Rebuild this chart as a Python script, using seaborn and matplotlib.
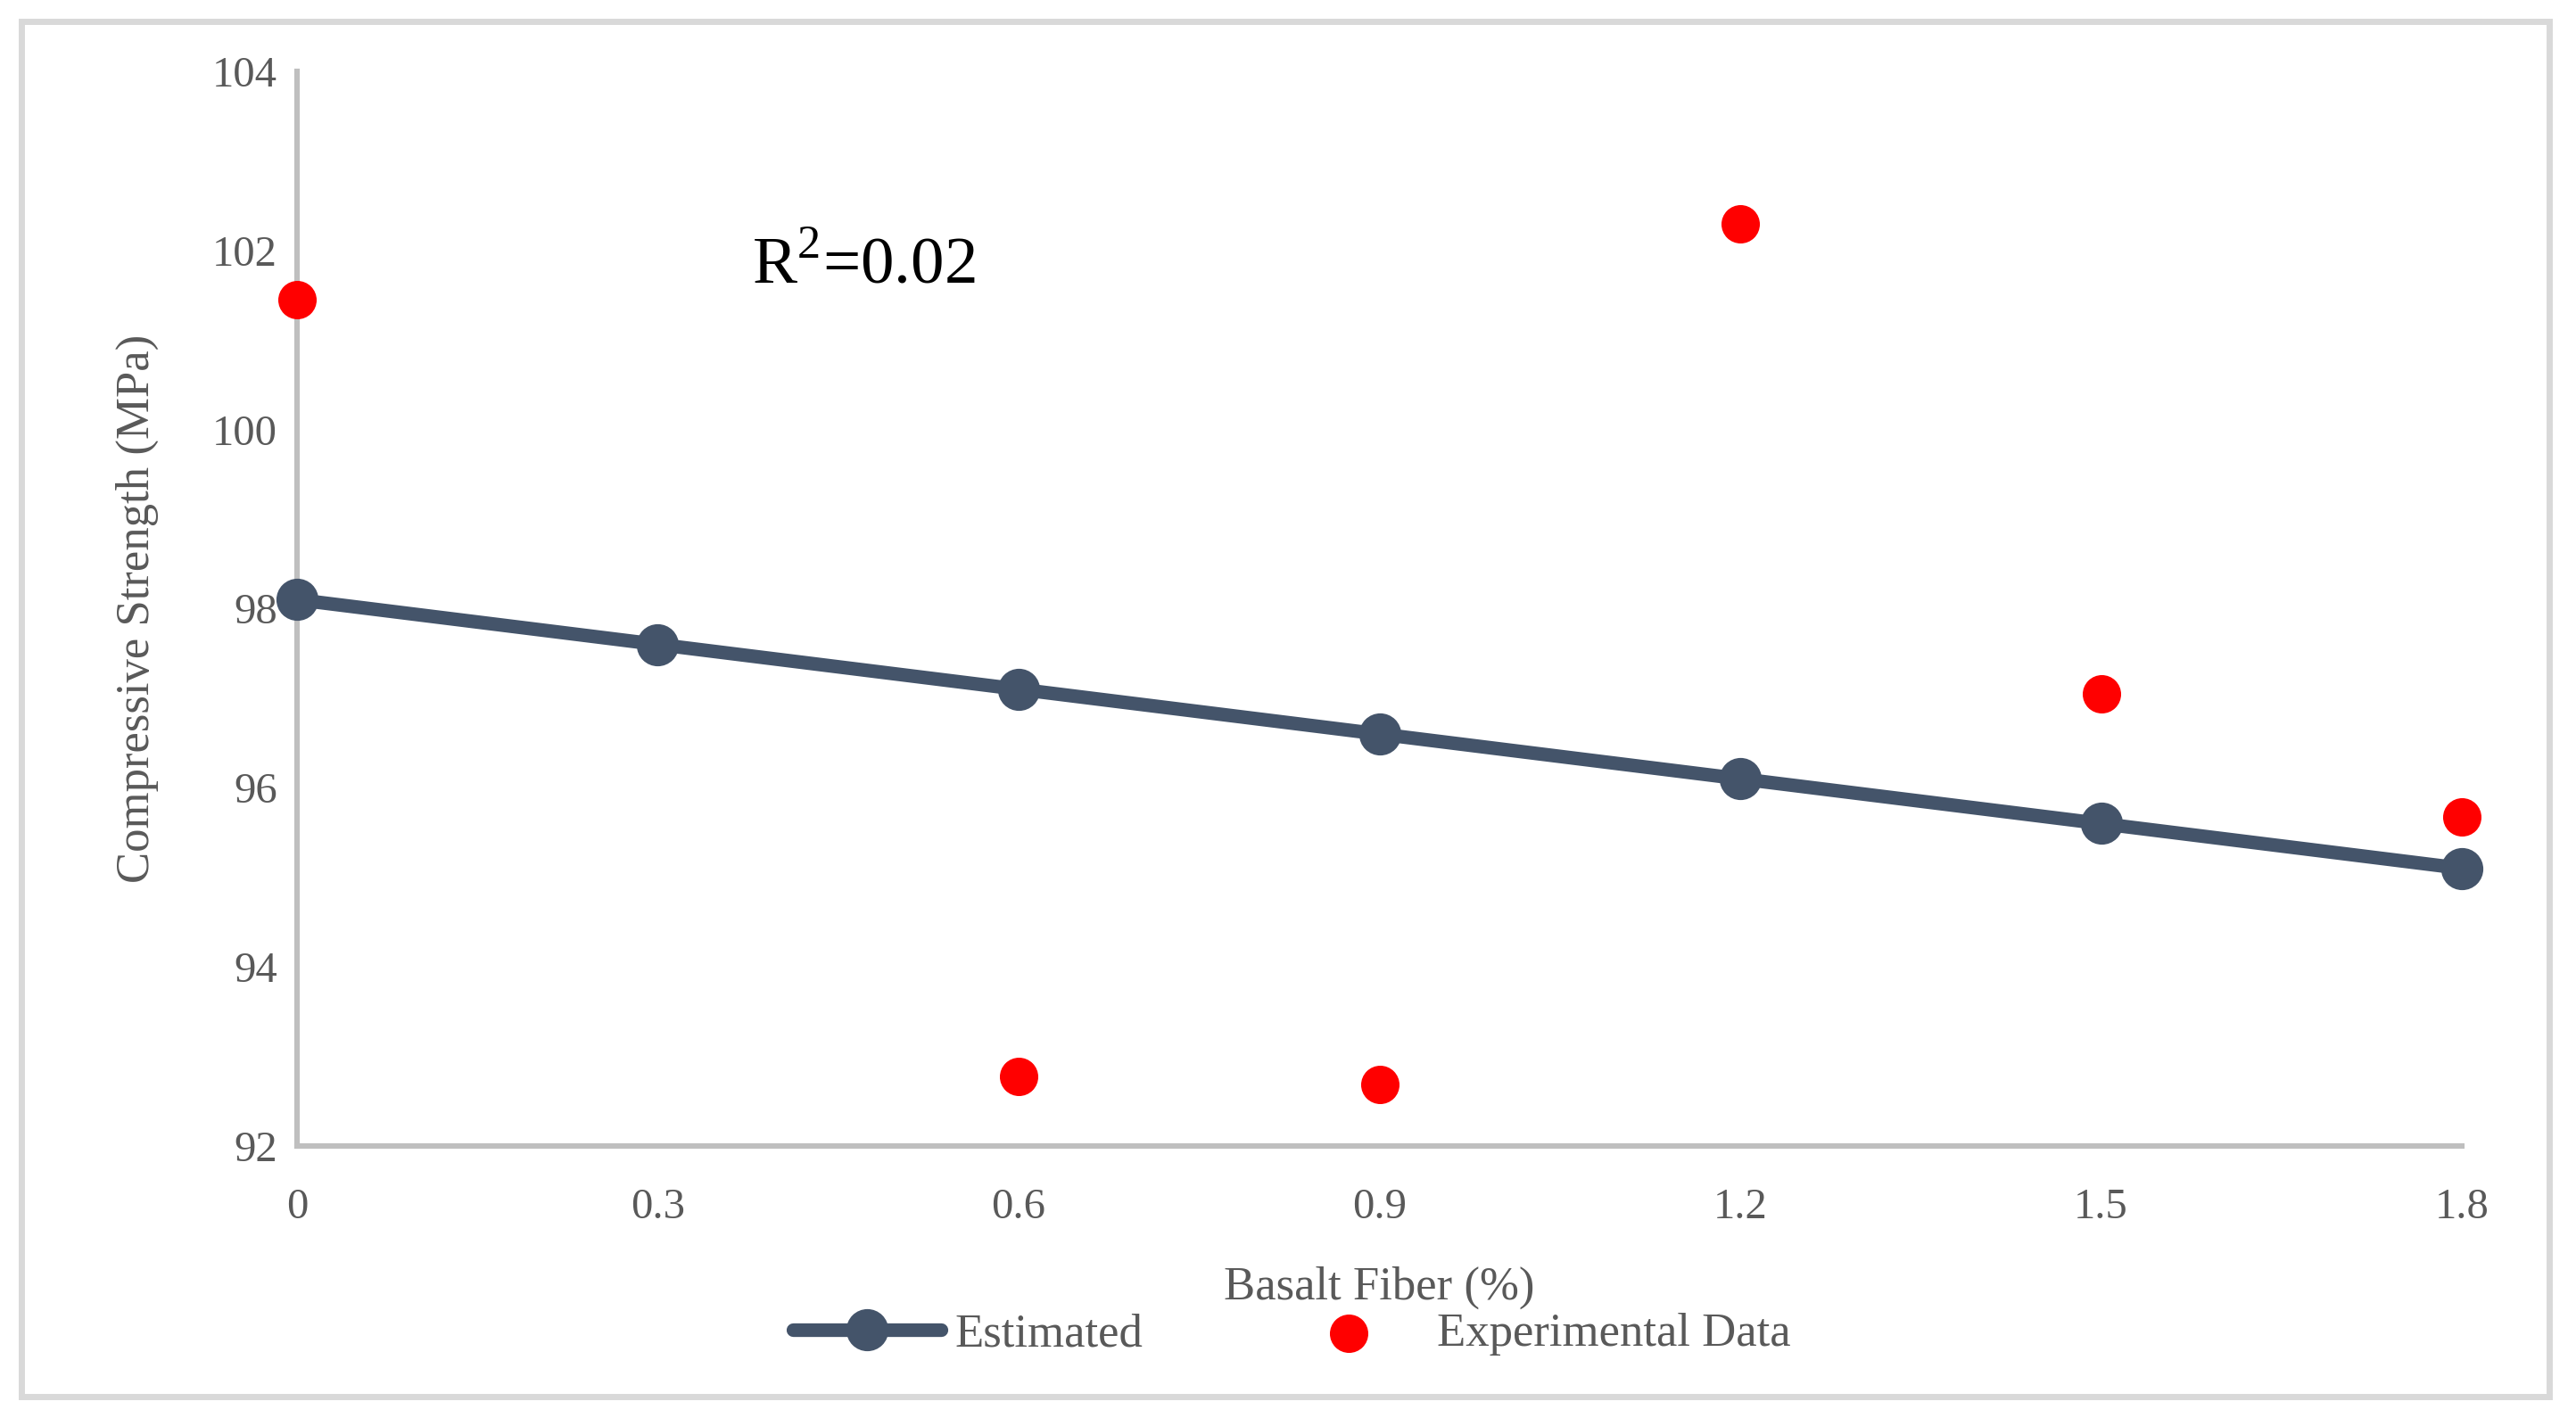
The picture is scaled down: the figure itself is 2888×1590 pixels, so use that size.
import seaborn as sns
import matplotlib.pyplot as plt
import pandas as pd
from matplotlib.patches import Rectangle

# values
fiber = [0, 0.3, 0.6, 0.9, 1.2, 1.5, 1.8]
estimated = [98.1, 97.6, 97.1, 96.6, 96.1, 95.6, 95.1]
exp_fiber = [0, 0.6, 0.9, 1.2, 1.5, 1.8]
experimental = [101.45, 92.78, 92.69, 102.3, 97.05, 95.67]
xticks = [0, 0.3, 0.6, 0.9, 1.2, 1.5, 1.8]
xtick_labels = ['0', '0.3', '0.6', '0.9', '1.2', '1.5', '1.8']
yticks = [92, 94, 96, 98, 100, 102, 104]

est_df = pd.DataFrame({'fiber': fiber, 'strength': estimated})
exp_df = pd.DataFrame({'fiber': exp_fiber, 'strength': experimental})

sns.set_style('white')
plt.rcParams['font.family'] = ['Liberation Serif', 'DejaVu Serif']
plt.rcParams['mathtext.fontset'] = 'custom'
plt.rcParams['mathtext.rm'] = 'Liberation Serif'

fig = plt.figure(figsize=(14.44, 7.95), dpi=200)
ax = fig.add_axes([0.1153, 0.1918, 0.8404, 0.758])

sns.lineplot(data=est_df, x='fiber', y='strength', ax=ax, color='#44546A',
             linewidth=5.5, marker='o', markersize=17, markeredgewidth=0,
             label='Estimated', clip_on=False, zorder=3)
sns.scatterplot(data=exp_df, x='fiber', y='strength', ax=ax, color='#FF0000',
                s=240, linewidth=0, label='Experimental Data', clip_on=False, zorder=4)

ax.set_xlim(0, 1.8)
ax.set_ylim(92, 104)
ax.set_xticks(xticks)
ax.set_xticklabels(xtick_labels)
ax.set_yticks(yticks)
ax.tick_params(axis='both', length=0, labelsize=17.5, labelcolor='#595959')
ax.tick_params(axis='x', pad=17)
ax.tick_params(axis='y', pad=8)

for side in ['top', 'right']:
    ax.spines[side].set_visible(False)
for side in ['left', 'bottom']:
    ax.spines[side].set_color('#BFBFBF')
    ax.spines[side].set_linewidth(2.2)

ax.set_xlabel('Basalt Fiber (%)', fontsize=19, color='#595959')
ax.set_ylabel('Compressive Strength (MPa)', fontsize=19, color='#595959')
ax.xaxis.set_label_coords(0.5, -0.112)
ax.yaxis.set_label_coords(-0.064, 0.5)

ax.text(0.21, 0.818, r'R$^{\mathrm{2}}$=0.02', transform=ax.transAxes, fontsize=27,
        color='black', va='center', ha='left')

handles, labels = ax.get_legend_handles_labels()
ax.legend(handles, labels, loc='center', bbox_to_anchor=(0.5015, 1 - 1496 / 1590),
          bbox_transform=fig.transFigure, ncol=2, frameon=False, fontsize=19,
          labelcolor='#595959', handlelength=3.15, handletextpad=0.3,
          columnspacing=2.8)

# chart border
fig.patches.append(Rectangle((24 / 2888, 1 - 1566 / 1590), 2834 / 2888, 1542 / 1590,
                             transform=fig.transFigure, fill=False,
                             edgecolor='#D9D9D9', linewidth=2.5))

fig.savefig('out.png', dpi=200)
